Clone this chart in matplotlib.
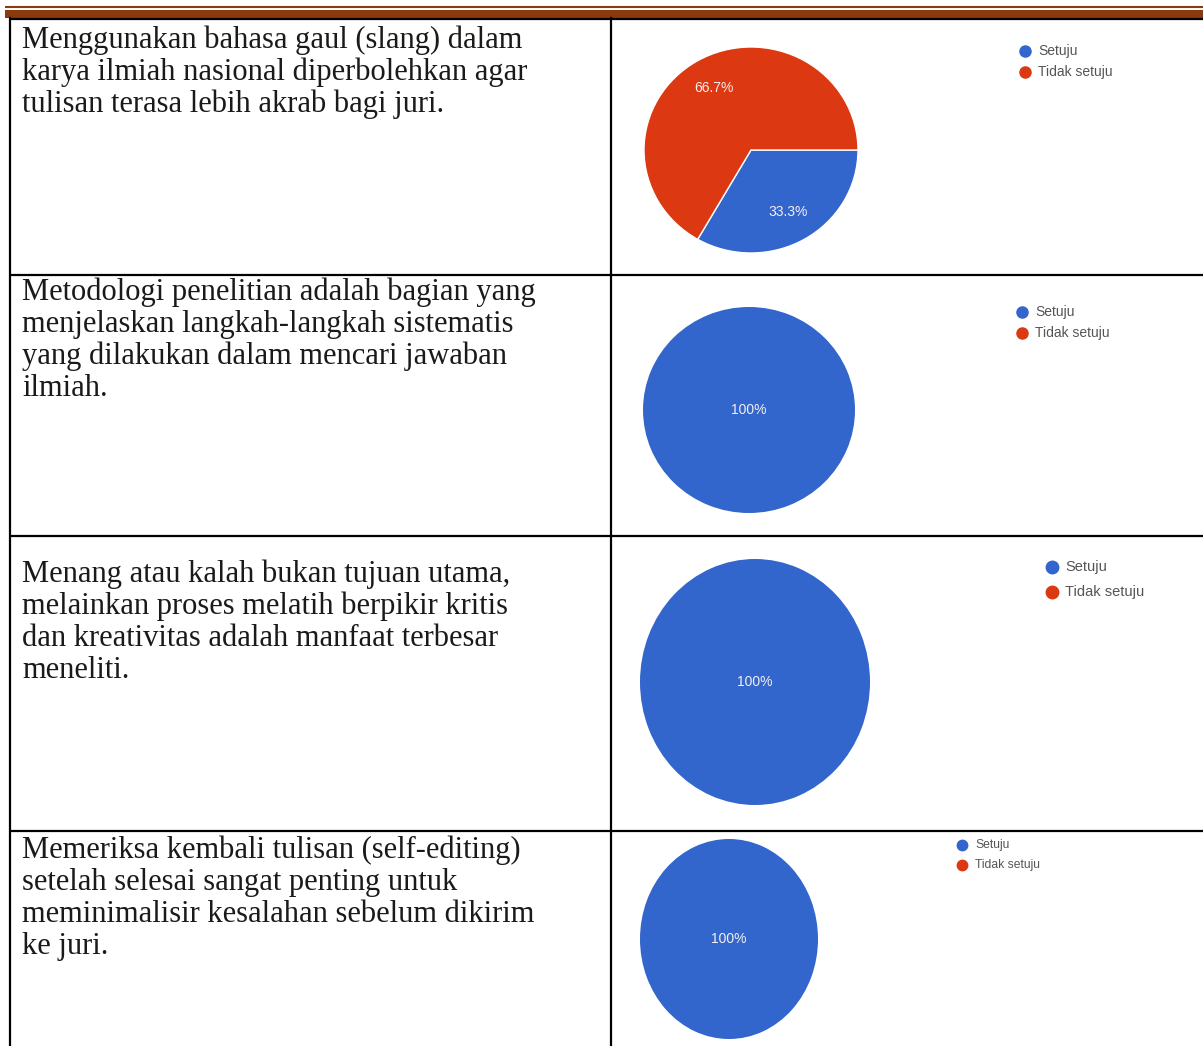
import matplotlib.pyplot as plt

# data
questions = [
    ['Menggunakan bahasa gaul (slang) dalam',
     'karya ilmiah nasional diperbolehkan agar',
     'tulisan terasa lebih akrab bagi juri.'],
    ['Metodologi penelitian adalah bagian yang',
     'menjelaskan langkah-langkah sistematis',
     'yang dilakukan dalam mencari jawaban',
     'ilmiah.'],
    ['Menang atau kalah bukan tujuan utama,',
     'melainkan proses melatih berpikir kritis',
     'dan kreativitas adalah manfaat terbesar',
     'meneliti.'],
    ['Memeriksa kembali tulisan (self-editing)',
     'setelah selesai sangat penting untuk',
     'meminimalisir kesalahan sebelum dikirim',
     'ke juri.'],
]
labels = ['Setuju', 'Tidak setuju']
setuju = [33.3, 100, 100, 100]
tidak_setuju = [66.7, 0, 0, 0]
colors = ['#3366CC', '#DC3912']

W, H = 1203, 1046
fig = plt.figure(figsize=(W / 100, H / 100), dpi=100)
bg = fig.add_axes([0, 0, 1, 1])
bg.set_xlim(0, W)
bg.set_ylim(H, 0)
bg.axis('off')

# layout (pixels)
row_edges = [19, 275, 536, 831, H]
text_base = [48, 300, 582, 858]
line_gap = 32
# pie boxes: (cx, cy, rx, ry)
pie_box = [(751, 150, 107, 103), (749, 410, 106, 103),
           (755, 682, 115, 123), (729, 939, 89, 100)]
# legend: (x of marker, y first row, row gap, font size, marker size)
leg_box = [(1025, 51, 21, 10, 8), (1022, 312, 21, 10, 8),
           (1052, 567, 25, 10.5, 9), (962, 845, 20, 8.7, 7.5)]

# top double border
bg.plot([5, W], [6.5, 6.5], color='#8B3A0F', lw=1.5, solid_capstyle='butt')
bg.fill_between([5, W], 9.5, 17.5, color='#8B3A0F', lw=0)
bg.plot([10, W], [18.5, 18.5], color='black', lw=1.6, solid_capstyle='butt')

# table grid
for y in row_edges[1:-1]:
    bg.plot([10, W], [y, y], color='black', lw=1.6, solid_capstyle='butt')
bg.plot([10, 10], [18, H], color='black', lw=1.6)
bg.plot([611, 611], [18, H], color='black', lw=1.6)

# question text
for i, lines in enumerate(questions):
    for j, line in enumerate(lines):
        bg.text(22, text_base[i] + j * line_gap, line, fontsize=22,
                family='Liberation Serif', color='#1a1a1a', va='baseline', ha='left')


def fmt(p):
    if p < 0.05:
        return ''
    if p > 99.95:
        return '100%'
    return f'{p:.1f}%'


for i in range(len(questions)):
    cx, cy, rx, ry = pie_box[i]
    vals = [setuju[i], tidak_setuju[i]]
    full = max(vals) >= 99.95
    ax = fig.add_axes([(cx - rx) / W, 1 - (cy + ry) / H, 2 * rx / W, 2 * ry / H])
    wedges, _, autotexts = ax.pie(vals, colors=colors,
                                  startangle=0, counterclock=False, autopct=fmt,
                                  pctdistance=0 if full else 0.7,
                                  wedgeprops=dict(edgecolor='white',
                                                  linewidth=0 if full else 1),
                                  textprops=dict(color='#f4eeee', fontsize=10,
                                                 family='Liberation Sans'))
    ax.set_aspect('auto')
    ax.set_xlim(-1, 1)
    ax.set_ylim(-1, 1)

    lx, ly, lg, fs, ms = leg_box[i]
    for k, lab in enumerate(labels):
        bg.plot(lx, ly + k * lg, 'o', color=colors[k], ms=ms, mec=colors[k])
        bg.text(lx + 13, ly + k * lg, lab, fontsize=fs, family='Liberation Sans',
                color='#555555', va='center', ha='left')

fig.savefig('out.png', dpi=100)
